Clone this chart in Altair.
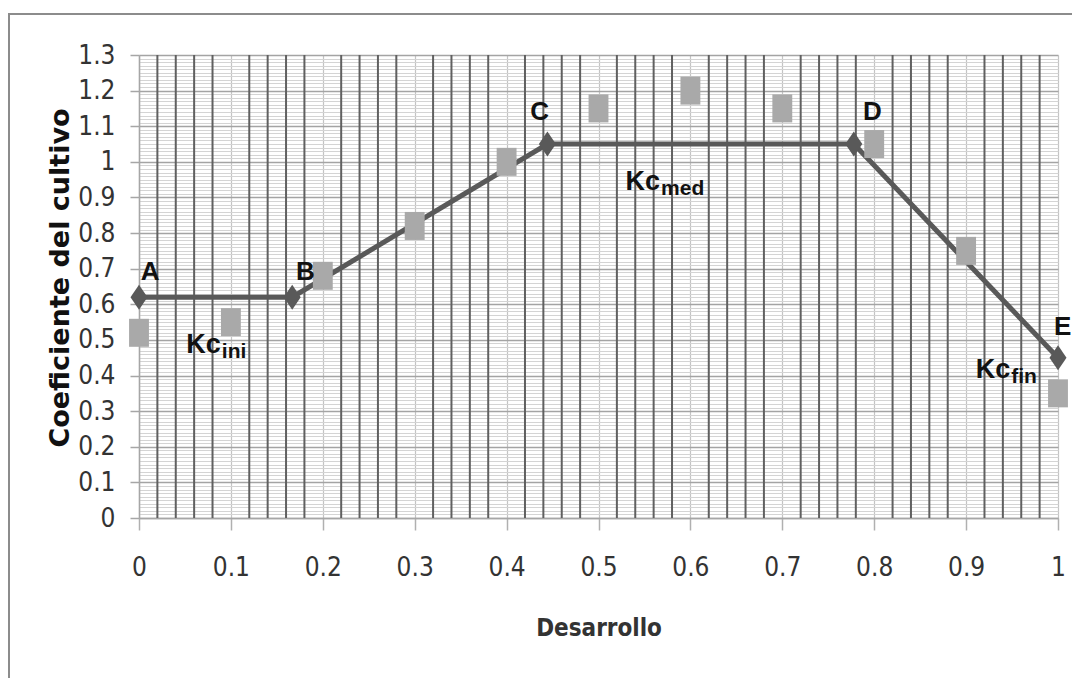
import altair as alt
import pandas as pd

# ---- data ----
# Kc curve (dark diamonds, connected)
curve_x = [0.0, 0.1667, 0.4444, 0.7778, 1.0]
curve_y = [0.62, 0.62, 1.05, 1.05, 0.45]
curve_lbl = ["A", "B", "C", "D", "E"]
# label anchors for the curve points (data units)
lbl_x = [0.012, 0.181, 0.436, 0.798, 1.005]
lbl_y = [0.69, 0.69, 1.14, 1.14, 0.537]

# measured Kc (light squares)
meas_x = [0.0, 0.1, 0.2, 0.3, 0.4, 0.5, 0.6, 0.7, 0.8, 0.9, 1.0]
meas_y = [0.52, 0.55, 0.68, 0.82, 1.00, 1.15, 1.20, 1.15, 1.05, 0.75, 0.35]

# stage annotations Kc_ini, Kc_med, Kc_fin
kc_main = ["Kc", "Kc", "Kc"]
kc_sub = ["ini", "med", "fin"]
kc_x = [0.089, 0.567, 0.948]
kc_y = [0.4635, 0.921, 0.393]

# axis / grid values
x_major = [round(i * 0.1, 1) for i in range(11)]
x_minor = [round(i * 0.02, 2) for i in range(51) if i % 5 != 0]
y_major = [round(i * 0.1, 1) for i in range(14)]
y_minor = [round(i * 0.01, 2) for i in range(131) if i % 10 != 0]

curve = pd.DataFrame({"x": curve_x, "y": curve_y})
labels = pd.DataFrame({"x": lbl_x, "y": lbl_y, "t": curve_lbl})
meas = pd.DataFrame({"x": meas_x, "y": meas_y})
kc = pd.DataFrame({"x": kc_x, "y": kc_y, "m": kc_main, "s": kc_sub})
xminor_df = pd.DataFrame({"x": x_minor})

TICK_FONT = "Liberation Sans Narrow, DejaVu Sans Condensed, sans-serif"
xs = alt.Scale(domain=[0, 1], nice=False, zero=False)
ys = alt.Scale(domain=[0, 1.3], nice=False, zero=False)

DIAMOND = "M0,-1L0.68,0L0,1L-0.68,0Z"
RECT = "M-0.71,-1H0.71V1H-0.71Z"

# minor horizontal grid
y_minor_axis = alt.Axis(values=y_minor, grid=True, gridColor="#d4d4d4", gridWidth=1,
                        domain=False, ticks=False, labels=False, title="", orient="right")

# major axes
x_axis = alt.Axis(values=x_major, format="~g", grid=True, gridColor="#c4c4c4", gridWidth=1.2,
                  domain=True, domainColor="#a6a6a6", domainWidth=1.5,
                  ticks=True, tickSize=12, tickColor="#b0b0b0", tickWidth=1.5,
                  labelFont=TICK_FONT, labelFontSize=26, labelColor="#333333",
                  labelPadding=24, labelFlush=False, labelOverlap=False,
                  title="Desarrollo", titleFont=TICK_FONT, titleFontSize=24,
                  titleFontWeight="bold", titleColor="#333333",
                  titleX=459.5, titleY=117, titleBaseline="alphabetic", orient="bottom")
y_axis = alt.Axis(values=y_major, format="~g", grid=True, gridColor="#a4a4a4", gridWidth=1.3,
                  domain=True, domainColor="#a6a6a6", domainWidth=1.5,
                  ticks=True, tickSize=9, tickColor="#a6a6a6", tickWidth=1.5,
                  labelFont=TICK_FONT, labelFontSize=26, labelColor="#333333",
                  labelPadding=15, labelFlush=False, labelOverlap=False,
                  title="Coeficiente del cultivo", titleFont="DejaVu Sans", titleFontSize=27,
                  titleFontWeight="bold", titleColor="#111111", titleAngle=270,
                  titleX=-71, titleY=222.5, titleAlign="center", titleBaseline="alphabetic",
                  orient="left")

grid_minor_y = alt.Chart(curve).mark_point(opacity=0).encode(
    x=alt.X("x:Q", scale=xs, axis=None),
    y=alt.Y("y:Q", scale=ys, axis=y_minor_axis),
)
grid_major = alt.Chart(curve).mark_point(opacity=0).encode(
    x=alt.X("x:Q", scale=xs, axis=x_axis),
    y=alt.Y("y:Q", scale=ys, axis=y_axis),
)
# dark vertical minor gridlines (every 0.02)
minor_x_rules = alt.Chart(xminor_df).mark_rule(color="#606060", strokeWidth=2).encode(
    x=alt.X("x:Q", scale=xs, axis=None),
)
line = alt.Chart(curve).mark_line(color="#595959", strokeWidth=5).encode(
    x=alt.X("x:Q", scale=xs, axis=None),
    y=alt.Y("y:Q", scale=ys, axis=None),
)
diamonds = alt.Chart(curve).mark_point(shape=DIAMOND, size=625, filled=True,
                                       color="#595959", opacity=1).encode(
    x=alt.X("x:Q", scale=xs, axis=None),
    y=alt.Y("y:Q", scale=ys, axis=None),
)
squares = alt.Chart(meas).mark_point(shape=RECT, size=784, filled=True,
                                     color="#a9a9a9", opacity=1).encode(
    x=alt.X("x:Q", scale=xs, axis=None),
    y=alt.Y("y:Q", scale=ys, axis=None),
)
letters = alt.Chart(labels).mark_text(font="Liberation Sans", fontWeight="bold", fontSize=26,
                                      color="#111111", align="center", baseline="middle").encode(
    x=alt.X("x:Q", scale=xs, axis=None),
    y=alt.Y("y:Q", scale=ys, axis=None),
    text="t:N",
)
kc_text = alt.Chart(kc).mark_text(font="Liberation Sans", fontWeight="bold", fontSize=27,
                                  color="#111111", align="right", baseline="alphabetic").encode(
    x=alt.X("x:Q", scale=xs, axis=None),
    y=alt.Y("y:Q", scale=ys, axis=None),
    text="m:N",
)
kc_subtext = alt.Chart(kc).mark_text(font="Liberation Sans", fontWeight="bold", fontSize=21,
                                     color="#111111", align="left", baseline="alphabetic",
                                     dx=1, dy=5).encode(
    x=alt.X("x:Q", scale=xs, axis=None),
    y=alt.Y("y:Q", scale=ys, axis=None),
    text="s:N",
)

one = pd.DataFrame({"a": [0]})
border_left = alt.Chart(one).mark_rule(color="#8c8c8c", strokeWidth=2).encode(
    x=alt.value(-130), y=alt.value(-41), y2=alt.value(640))
border_top = alt.Chart(one).mark_rule(color="#8c8c8c", strokeWidth=2).encode(
    x=alt.value(-131), x2=alt.value(940), y=alt.value(-41))

chart = alt.layer(
    grid_minor_y, grid_major, minor_x_rules, line, diamonds, squares,
    letters, kc_text, kc_subtext, border_left, border_top
).resolve_axis(x="independent", y="independent").properties(
    width=919, height=463,
    autosize=alt.AutoSizeParams(type="none"),
    padding={"left": 131, "top": 47, "right": 14, "bottom": 160},
    background="white",
).configure_view(strokeOpacity=0)

chart.save("out.html", embed_options={"renderer": "svg", "actions": False})
